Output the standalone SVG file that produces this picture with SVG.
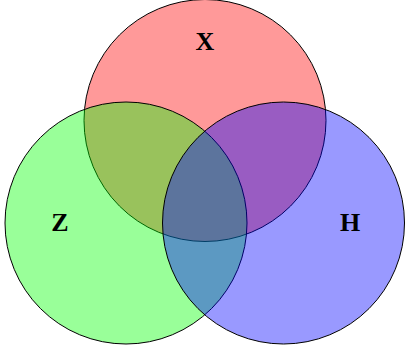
<svg xmlns="http://www.w3.org/2000/svg" width="405" height="351" viewBox="0 0 405 351">
<style>
.c{stroke:#000;stroke-width:1;fill-opacity:0.4}
.t{font-family:"Liberation Serif",serif;font-weight:bold;font-size:26px;text-anchor:middle;fill:#000}
</style>
<rect width="405" height="351" fill="#fff"/>
<g id="X"><circle class="c" cx="205" cy="120.5" r="121" fill="#ff0000"/></g>
<g id="Z"><circle class="c" cx="126" cy="223" r="121" fill="#00ff00"/></g>
<g id="H"><circle class="c" cx="283.5" cy="223" r="121" fill="#0000ff"/></g>
<g id="labels">
<text class="t" x="205" y="50">X</text>
<text class="t" x="60" y="231">Z</text>
<text class="t" x="350" y="231">H</text>
</g>
<g id="connectors"/>
</svg>
